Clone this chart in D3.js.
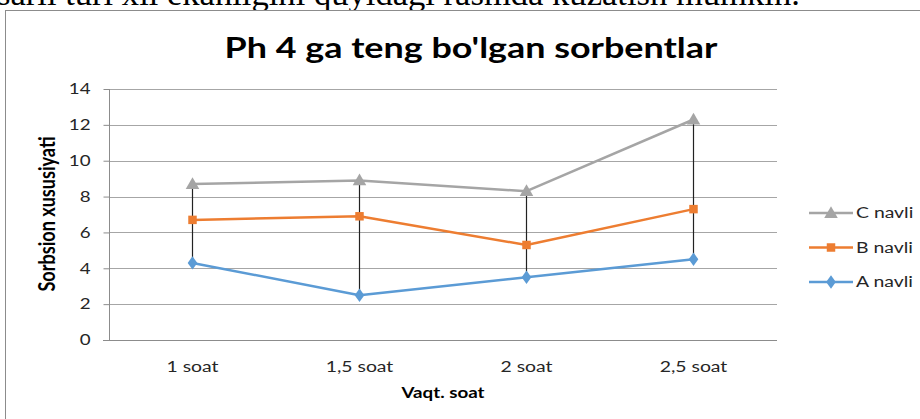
<!DOCTYPE html>
<html>
<head>
<meta charset="utf-8">
<script src="https://cdn.jsdelivr.net/npm/d3@7/dist/d3.min.js"></script>
<style>
  html, body { margin: 0; padding: 0; background: #fff; }
  svg { display: block; }
</style>
</head>
<body>
<svg id="chart" width="920" height="419"></svg>
<script>
// Sorption values over time for three sorbent grades (pH 4)
const categories = ["1 soat", "1,5 soat", "2 soat", "2,5 soat"];
const seriesA = [4.3, 2.5, 3.5, 4.5];   // A navli
const seriesB = [6.7, 6.9, 5.3, 7.3];   // B navli
const seriesC = [8.7, 8.9, 8.3, 12.3];  // C navli
const yTicks = [0, 2, 4, 6, 8, 10, 12, 14];

const series = [
  { name: "C navli", values: seriesC, color: "#a5a5a5", marker: "triangle" },
  { name: "B navli", values: seriesB, color: "#ed7d31", marker: "square" },
  { name: "A navli", values: seriesA, color: "#5b9bd5", marker: "diamond" }
];

const svg = d3.select("#chart");
const font = "Lato, 'Open Sans', sans-serif";
const SX = 1.25; // horizontal widening of the chart's sans-serif text

// Scale a text element's font size so it spans the given width
function fitWidth(sel, target) {
  const w = sel.node().getComputedTextLength();
  const fs = parseFloat(sel.attr("font-size"));
  sel.attr("font-size", fs * target / w);
}

// Place a widened text at (x, y)
function wideText(x, y) {
  return svg.append("text")
    .attr("transform", `translate(${x},${y}) scale(${SX},1)`)
    .attr("font-family", font);
}

// Running body text above the chart
svg.append("text")
  .attr("x", -3).attr("y", 5)
  .attr("font-family", "'Liberation Serif', 'Times New Roman', serif")
  .attr("font-size", 26)
  .attr("fill", "#000")
  .text("sarli turi xil ekanligini quyidagi rasmda kuzatish mumkin.")
  .call(s => fitWidth(s, 803));

// Chart frame
svg.append("rect")
  .attr("x", 5.5).attr("y", 10.5)
  .attr("width", 930).attr("height", 430)
  .attr("fill", "#fff")
  .attr("stroke", "#8c8c8c").attr("stroke-width", 1);

const plot = { left: 109, right: 777, top: 89, bottom: 340 };

const x = d3.scaleBand().domain(categories).range([plot.left, plot.right]);
const y = d3.scaleLinear().domain([0, 14]).range([plot.bottom, plot.top]);
const cx = c => x(c) + x.bandwidth() / 2;

// Title
wideText(471, 58)
  .attr("text-anchor", "middle")
  .attr("font-weight", 700)
  .attr("font-size", 28).attr("fill", "#000")
  .text("Ph 4 ga teng bo'lgan sorbentlar")
  .call(s => fitWidth(s, 493 / SX));

// Horizontal gridlines
svg.append("g")
  .selectAll("line")
  .data(yTicks.filter(t => t > 0))
  .join("line")
  .attr("x1", plot.left).attr("x2", plot.right)
  .attr("y1", d => Math.round(y(d)) + 0.5).attr("y2", d => Math.round(y(d)) + 0.5)
  .attr("stroke", "#a6a6a6").attr("stroke-width", 1);

// Y axis
const yAxis = svg.append("g")
  .attr("transform", `translate(${plot.left + 0.5},0)`)
  .call(d3.axisLeft(y).tickValues(yTicks).tickSize(6).tickPadding(13).tickFormat(d3.format("d")));
yAxis.select(".domain").attr("stroke", "#8c8c8c").attr("d", `M-0,${plot.top}V${plot.bottom}`);
yAxis.selectAll(".tick line").attr("stroke", "#8c8c8c");
yAxis.selectAll(".tick text")
  .attr("x", -19 / SX)
  .attr("transform", `scale(${SX},1)`)
  .attr("font-family", font).attr("font-size", 15).attr("fill", "#262626");

// X axis
const xAxis = svg.append("g")
  .attr("transform", `translate(0,${Math.round(plot.bottom) + 0.5})`)
  .call(d3.axisBottom(x).tickSize(0).tickPadding(20));
xAxis.select(".domain").attr("stroke", "#8c8c8c").attr("d", `M${plot.left - 6},0H${plot.right}`);
xAxis.selectAll(".tick text")
  .attr("transform", `scale(${SX},1)`)
  .attr("font-family", font).attr("font-size", 15.5).attr("fill", "#262626");

// Axis titles
svg.append("text")
  .attr("transform", `translate(55,214) rotate(-90) scale(1,${SX})`)
  .attr("text-anchor", "middle")
  .attr("font-family", font).attr("font-weight", 700)
  .attr("font-size", 15).attr("fill", "#000")
  .text("Sorbsion xususiyati")
  .call(s => fitWidth(s, 155));

wideText((plot.left + plot.right) / 2, 398)
  .attr("text-anchor", "middle")
  .attr("font-weight", 700)
  .attr("font-size", 15).attr("fill", "#000")
  .text("Vaqt. soat");

// High-low lines joining the lowest and highest series at each time
svg.append("g")
  .selectAll("line")
  .data(categories.map((c, i) => ({ c, lo: Math.min(seriesA[i], seriesB[i], seriesC[i]), hi: Math.max(seriesA[i], seriesB[i], seriesC[i]) })))
  .join("line")
  .attr("x1", d => cx(d.c)).attr("x2", d => cx(d.c))
  .attr("y1", d => y(d.lo)).attr("y2", d => y(d.hi))
  .attr("stroke", "#222").attr("stroke-width", 1.2);

const symbolFor = {
  triangle: d3.symbol().type(d3.symbolTriangle).size(80),
  square: d3.symbol().type(d3.symbolSquare).size(72),
  diamond: d3.symbol().type(d3.symbolDiamond).size(52)
};

const line = d3.line().x((d, i) => cx(categories[i])).y(d => y(d));

// Series lines and markers (A drawn last, on top)
series.slice().reverse().forEach(s => {
  svg.append("path")
    .datum(s.values)
    .attr("d", line)
    .attr("fill", "none")
    .attr("stroke", s.color).attr("stroke-width", 2.5)
    .attr("stroke-linejoin", "round");
  svg.append("g")
    .selectAll("path")
    .data(s.values)
    .join("path")
    .attr("transform", (d, i) => `translate(${cx(categories[i])},${y(d) + (s.marker === "triangle" ? 1 : 0)}) scale(${s.marker === "diamond" ? SX : 1},1)`)
    .attr("d", symbolFor[s.marker])
    .attr("fill", s.color);
});

// Legend
series.forEach((s, i) => {
  const ly = 213 + i * 34.5;
  const g = svg.append("g").attr("transform", `translate(0,${ly})`);
  g.append("line")
    .attr("x1", 809).attr("x2", 853).attr("y1", 0).attr("y2", 0)
    .attr("stroke", s.color).attr("stroke-width", 2.5);
  g.append("path")
    .attr("transform", `translate(831,${s.marker === "triangle" ? 1 : 0}) scale(${s.marker === "diamond" ? SX : 1},1)`)
    .attr("d", symbolFor[s.marker])
    .attr("fill", s.color);
  g.append("text")
    .attr("transform", `translate(856,0) scale(${SX},1)`)
    .attr("dy", "0.35em")
    .attr("font-family", font).attr("font-size", 15.5).attr("fill", "#262626")
    .text(s.name);
});
</script>
</body>
</html>
